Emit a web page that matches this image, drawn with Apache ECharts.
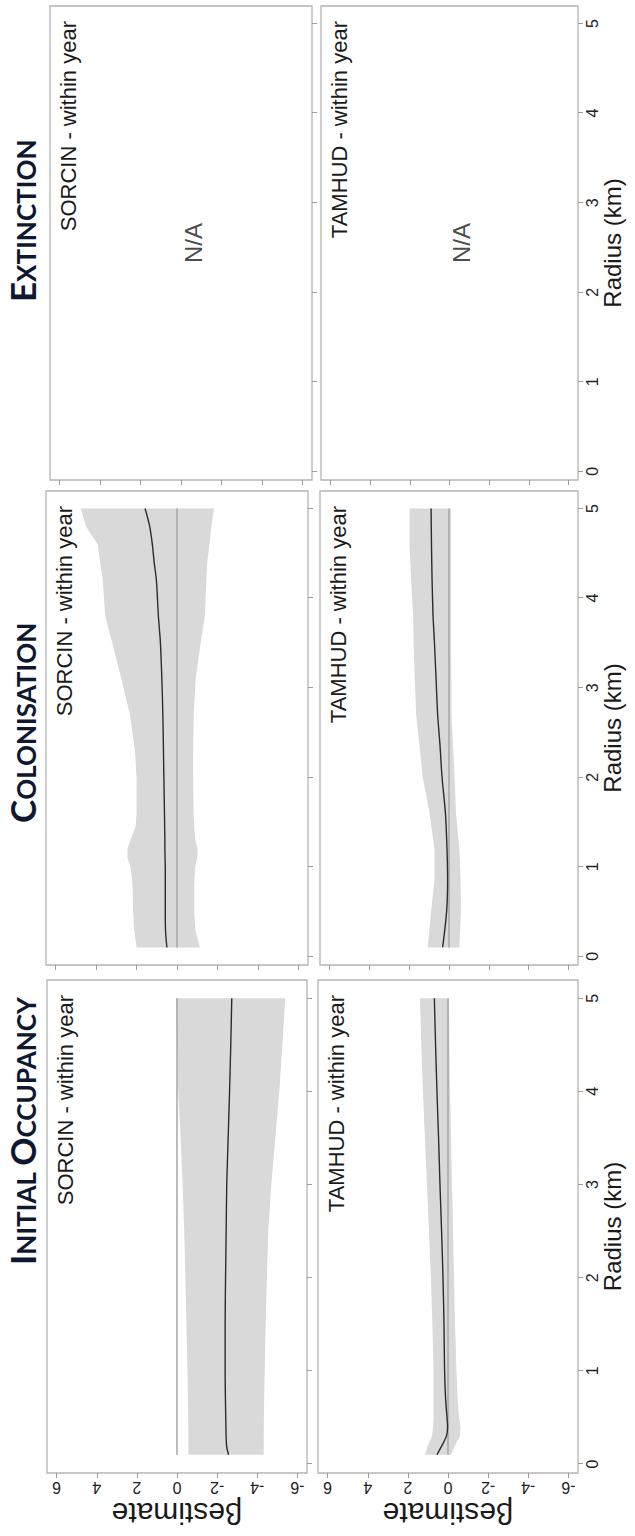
<!DOCTYPE html>
<html>
<head>
<meta charset="utf-8">
<title>Occupancy dynamics by radius</title>
<script src="https://cdn.jsdelivr.net/npm/echarts@6/dist/echarts.min.js"></script>
<style>
  html, body { margin: 0; padding: 0; background: #ffffff; overflow: hidden; }
  body { width: 635px; height: 1536px; position: relative; }
  /* The figure is laid out landscape and turned a quarter turn counter-clockwise */
  #chart {
    position: absolute; left: 0; top: 0;
    width: 1536px; height: 635px;
    transform-origin: 0 0;
    transform: translateY(1536px) rotate(-90deg);
  }
</style>
</head>
<body>
<div id="chart"></div>
<script>
// ---- Data -------------------------------------------------------------
const radiusTicks = [0, 1, 2, 3, 4, 5];
const estimateTicks = [-6, -4, -2, 0, 2, 4, 6];
const columnTitles = [['I', 'NITIAL ', 'O', 'CCUPANCY'], ['C', 'OLONISATION'], ['E', 'XTINCTION']];
const speciesLabels = ['SORCIN - within year', 'TAMHUD - within year'];
const zeroLine = [[0.1, 0], [5, 0]];

// Initial occupancy, SORCIN
const initSorR   = [0.1, 0.2, 0.5, 1.0, 1.5, 2.0, 2.5, 3.0, 3.5, 4.0, 4.5, 5.0];
const initSorEst = [-2.57, -2.47, -2.43, -2.40, -2.40, -2.42, -2.45, -2.48, -2.55, -2.62, -2.68, -2.73];
const initSorLo  = [-4.32, -4.32, -4.33, -4.37, -4.42, -4.48, -4.55, -4.70, -4.90, -5.10, -5.25, -5.40];
const initSorHi  = [-0.57, -0.57, -0.56, -0.52, -0.47, -0.42, -0.36, -0.28, -0.18, -0.06, 0.00, 0.05];

// Initial occupancy, TAMHUD
const initTamR   = [0.1, 0.2, 0.3, 0.4, 0.5, 0.7, 1.0, 1.5, 2.0, 2.5, 3.0, 3.5, 4.0, 4.5, 5.0];
const initTamEst = [0.55, 0.30, 0.08, 0.02, 0.05, 0.12, 0.17, 0.20, 0.25, 0.32, 0.40, 0.47, 0.55, 0.62, 0.68];
const initTamLo  = [-0.15, -0.35, -0.60, -0.62, -0.55, -0.48, -0.42, -0.35, -0.30, -0.25, -0.20, -0.15, -0.10, -0.07, -0.05];
const initTamHi  = [1.15, 1.00, 0.80, 0.74, 0.72, 0.72, 0.72, 0.78, 0.85, 0.95, 1.05, 1.15, 1.25, 1.33, 1.40];

// Colonisation, SORCIN
const colSorR   = [0.1, 0.3, 0.5, 0.8, 1.0, 1.1, 1.2, 1.3, 1.45, 1.6, 2.0, 2.3, 2.7, 3.1, 3.5, 3.8, 4.2, 4.4, 4.6, 4.8, 5.0];
const colSorEst = [0.50, 0.57, 0.58, 0.58, 0.58, 0.59, 0.60, 0.60, 0.61, 0.62, 0.65, 0.67, 0.70, 0.75, 0.82, 0.92, 1.02, 1.13, 1.22, 1.35, 1.58];
const colSorLo  = [-1.13, -0.90, -0.85, -0.85, -0.90, -1.00, -1.02, -0.90, -0.85, -0.82, -0.80, -0.80, -0.83, -0.92, -1.17, -1.38, -1.45, -1.50, -1.60, -1.70, -1.83];
const colSorHi  = [2.00, 2.12, 2.17, 2.20, 2.30, 2.45, 2.45, 2.30, 2.05, 2.00, 2.00, 2.08, 2.33, 2.75, 3.20, 3.55, 3.67, 3.80, 3.92, 4.50, 4.75];

// Colonisation, TAMHUD
const colTamR   = [0.1, 0.5, 0.85, 1.2, 1.6, 2.0, 2.35, 2.7, 3.1, 3.5, 3.8, 4.2, 4.6, 5.0];
const colTamEst = [0.32, 0.12, 0.07, 0.10, 0.18, 0.35, 0.45, 0.57, 0.65, 0.73, 0.80, 0.85, 0.88, 0.90];
const colTamLo  = [-0.52, -0.60, -0.58, -0.52, -0.35, -0.28, -0.20, -0.12, -0.12, -0.10, -0.10, -0.10, -0.10, -0.10];
const colTamHi  = [1.07, 0.90, 0.73, 0.73, 0.98, 1.32, 1.48, 1.65, 1.72, 1.78, 1.80, 1.90, 1.98, 1.98];

// Extinction: no estimate for either species
const naLabel = 'N/A';
const naPoint = [[2.55, -0.6]];

// ---- Layout (landscape frame, pixels) -----------------------------------
const W = 1536, H = 635;
const colX = [[63, 556], [571, 1045], [1056, 1530]];
const rowY = [[[47, 307], [318, 578]], [[46, 308], [320, 578]], [[50, 312], [321, 578]]];
const textFont = '"Liberation Sans", Arial, sans-serif';
const titleFont = 'Lato, "Open Sans", sans-serif';

const panels = [
  { c: 0, r: 0, R: initSorR, est: initSorEst, lo: initSorLo, hi: initSorHi },
  { c: 0, r: 1, R: initTamR, est: initTamEst, lo: initTamLo, hi: initTamHi },
  { c: 1, r: 0, R: colSorR,  est: colSorEst,  lo: colSorLo,  hi: colSorHi },
  { c: 1, r: 1, R: colTamR,  est: colTamEst,  lo: colTamLo,  hi: colTamHi },
  { c: 2, r: 0, na: true },
  { c: 2, r: 1, na: true }
];

const grid = [], xAxis = [], yAxis = [], series = [], title = [];

panels.forEach((p, g) => {
  const [x0, x1] = colX[p.c];
  const [y0, y1] = rowY[p.c][p.r];
  grid.push({
    left: x0, top: y0, width: x1 - x0, height: y1 - y0,
    show: true, borderColor: '#b4b4b4', borderWidth: 1.3,
    backgroundColor: 'transparent', containLabel: false, outerBoundsMode: 'none'
  });
  xAxis.push({
    gridIndex: g, type: 'value', min: -0.096, max: 5.196, position: 'bottom',
    axisLine: { show: false, onZero: false },
    splitLine: { show: false },
    axisTick: { show: true, inside: false, length: 5, customValues: radiusTicks,
                lineStyle: { color: '#9c9c9c', width: 1 } },
    axisLabel: { show: p.r === 1, customValues: radiusTicks, fontSize: 16, color: '#222',
                 margin: 6, fontFamily: textFont },
    name: p.r === 1 ? 'Radius (km)' : '',
    nameLocation: 'middle', nameGap: 20,
    nameTextStyle: { fontSize: 24, color: '#1a1a1a', fontFamily: textFont }
  });
  yAxis.push({
    gridIndex: g, type: 'value', min: -6.48, max: 6.48, position: 'left',
    axisLine: { show: false, onZero: false },
    splitLine: { show: false },
    axisTick: { show: true, inside: false, length: 5, customValues: estimateTicks,
                lineStyle: { color: '#9c9c9c', width: 1 } },
    axisLabel: { show: p.c === 0, customValues: estimateTicks, rotate: 90, fontSize: 16,
                 color: '#222', margin: 6, fontFamily: textFont },
    name: p.c === 0 ? 'βestimate' : '',
    nameLocation: 'middle', nameRotate: 90, nameGap: 25,
    nameTextStyle: { fontSize: 30, color: '#1a1a1a', fontFamily: textFont }
  });

  // species label in the upper right corner of each panel
  title.push({
    text: speciesLabels[p.r], right: W - (x1 - 15), top: y0 + 7, padding: 0,
    textStyle: { fontSize: 22, fontWeight: 'normal', color: '#1a1a1a', fontFamily: textFont }
  });

  if (p.na) {
    series.push({
      type: 'scatter', xAxisIndex: g, yAxisIndex: g, data: naPoint,
      symbolSize: 1, itemStyle: { color: 'rgba(0,0,0,0)' }, silent: true,
      label: { show: true, position: 'inside', formatter: naLabel, fontSize: 24,
               color: '#1a1a1a', fontFamily: textFont }
    });
    return;
  }

  // confidence band: one polygon through the upper bounds and back along the lower bounds
  series.push({
    type: 'custom', coordinateSystem: 'cartesian2d', xAxisIndex: g, yAxisIndex: g,
    data: p.R.map((r, i) => [r, p.lo[i], p.hi[i]]),
    encode: { x: 0, y: [1, 2] }, silent: true, z: 1,
    renderItem: function (params, api) {
      if (params.dataIndexInside !== 0) return null;
      const n = params.dataInsideLength;
      const upper = [], lower = [];
      for (let i = 0; i < n; i++) {
        upper.push(api.coord([api.value(0, i), api.value(2, i)]));
        lower.push(api.coord([api.value(0, i), api.value(1, i)]));
      }
      return {
        type: 'polygon',
        shape: { points: upper.concat(lower.reverse()) },
        style: { fill: '#d9d9d9', stroke: null }
      };
    }
  });
  // reference line at zero
  series.push({
    type: 'line', xAxisIndex: g, yAxisIndex: g, data: zeroLine, z: 2,
    symbol: 'none', silent: true, lineStyle: { color: '#a6a6a6', width: 1.5 }
  });
  // estimate
  series.push({
    type: 'line', xAxisIndex: g, yAxisIndex: g, z: 3,
    data: p.R.map((r, i) => [r, p.est[i]]),
    symbol: 'none', smooth: 0.3, silent: true,
    lineStyle: { color: '#2b2b2b', width: 1.4 }
  });
});

// column headings in small capitals
const titleLeft = [271, 713, 1234];
columnTitles.forEach((parts, c) => {
  const text = parts.map((s, i) => (i % 2 === 0 ? '{big|' : '{small|') + s + '}').join('');
  title.push({
    text: text, left: titleLeft[c], top: 4, padding: 0,
    textStyle: {
      rich: {
        big:   { fontSize: 35, lineHeight: 35, fontWeight: 'bold', color: '#0e1830', fontFamily: titleFont, verticalAlign: 'bottom' },
        small: { fontSize: 26, lineHeight: 26, fontWeight: 'bold', color: '#0e1830', fontFamily: titleFont, verticalAlign: 'bottom' }
      }
    }
  });
});

const chart = echarts.init(document.getElementById('chart'), null, { renderer: 'svg', width: W, height: H });
chart.setOption({
  animation: false,
  backgroundColor: '#ffffff',
  title: title,
  grid: grid,
  xAxis: xAxis,
  yAxis: yAxis,
  series: series
});
</script>
</body>
</html>
